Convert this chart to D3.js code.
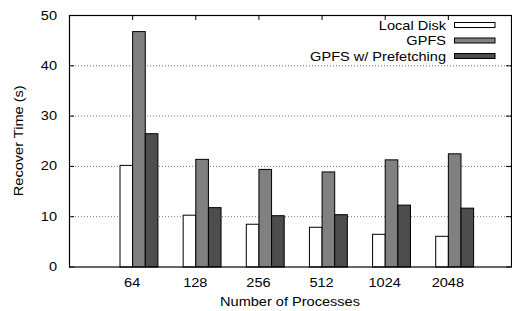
<!DOCTYPE html>
<html>
<head>
<meta charset="utf-8">
<script src="https://cdn.jsdelivr.net/npm/d3@7"></script>
<style>
  body { margin: 0; background: #fff; }
  svg { display: block; font-family: "Liberation Sans", Arial, sans-serif; }
</style>
</head>
<body>
<div id="chart"></div>
<script>
const categories = ['64', '128', '256', '512', '1024', '2048'];
const seriesNames = ['Local Disk', 'GPFS', 'GPFS w/ Prefetching'];
const localDisk = [20.2, 10.3, 8.5, 7.9, 6.5, 6.1];
const gpfs = [46.8, 21.4, 19.4, 18.9, 21.3, 22.5];
const prefetching = [26.5, 11.8, 10.2, 10.4, 12.3, 11.7];
const yTicks = [0, 10, 20, 30, 40, 50];
const colors = ['#ffffff', '#808080', '#4d4d4d'];

const width = 512;
const height = 311;
const margin = { top: 15, right: 1, bottom: 44.5, left: 69 };
const fontSize = 13;
const stretch = 1.12; // the original lettering is a bit wider than Liberation Sans

const series = [localDisk, gpfs, prefetching];

const svg = d3.select('#chart')
  .append('svg')
  .attr('width', width)
  .attr('height', height);

// gnuplot-like clustered layout: one unit per group, bars 0.2 wide
const x = d3.scaleLinear()
  .domain([-1, 6])
  .range([margin.left, width - margin.right]);

const y = d3.scaleLinear()
  .domain([0, 50])
  .range([height - margin.bottom, margin.top]);

const barW = 0.2;

function label(sel, px, py) {
  return sel.attr('transform', (d, i) => `translate(${px(d, i)},${py(d, i)}) scale(${stretch},1)`)
    .attr('font-size', fontSize);
}

// grid lines (dotted)
svg.append('g')
  .selectAll('line')
  .data(yTicks.filter(d => d > 0 && d < 50))
  .join('line')
  .attr('x1', x(-1))
  .attr('x2', x(6))
  .attr('y1', d => y(d) + 0.5)
  .attr('y2', d => y(d) + 0.5)
  .attr('stroke', '#777')
  .attr('stroke-width', 1)
  .attr('stroke-dasharray', '1,2');

// bars
series.forEach((vals, k) => {
  svg.append('g')
    .selectAll('rect')
    .data(vals)
    .join('rect')
    .attr('x', (d, i) => x(i + (k - 1) * barW) + 0.5)
    .attr('width', x(barW) - x(0))
    .attr('y', d => y(d) + 0.5)
    .attr('height', d => y(0) - y(d))
    .attr('fill', colors[k])
    .attr('stroke', '#000')
    .attr('stroke-width', 1);
});

// y axis tick labels and ticks
const yAxis = svg.append('g');
yAxis.selectAll('text')
  .data(yTicks)
  .join('text')
  .call(label, () => 57, d => y(d) + 4.5)
  .attr('text-anchor', 'end')
  .text(d => d);

yAxis.selectAll('line.l')
  .data(yTicks)
  .join('line')
  .attr('class', 'l')
  .attr('x1', x(-1))
  .attr('x2', x(-1) + 5)
  .attr('y1', d => y(d) + 0.5)
  .attr('y2', d => y(d) + 0.5)
  .attr('stroke', '#000');

yAxis.selectAll('line.r')
  .data(yTicks)
  .join('line')
  .attr('class', 'r')
  .attr('x1', x(6) - 5)
  .attr('x2', x(6))
  .attr('y1', d => y(d) + 0.5)
  .attr('y2', d => y(d) + 0.5)
  .attr('stroke', '#000');

// x tick labels and top ticks
const xAxis = svg.append('g');
xAxis.selectAll('text')
  .data(categories)
  .join('text')
  .call(label, (d, i) => x(i), () => 287)
  .attr('text-anchor', 'middle')
  .text(d => d);

xAxis.selectAll('line')
  .data(categories)
  .join('line')
  .attr('x1', (d, i) => x(i) + 0.5)
  .attr('x2', (d, i) => x(i) + 0.5)
  .attr('y1', y(50))
  .attr('y2', y(50) + 5)
  .attr('stroke', '#000');

// border
svg.append('rect')
  .attr('x', x(-1) + 0.5)
  .attr('y', y(50) + 0.5)
  .attr('width', x(6) - x(-1))
  .attr('height', y(0) - y(50))
  .attr('fill', 'none')
  .attr('stroke', '#000')
  .attr('stroke-width', 1.2);

// axis titles
svg.append('text')
  .attr('transform', `translate(22.5,${(y(0) + y(50)) / 2}) rotate(-90) scale(${stretch},1)`)
  .attr('text-anchor', 'middle')
  .attr('font-size', fontSize)
  .text('Recover Time (s)');

svg.append('text')
  .attr('transform', `translate(${(x(-1) + x(6)) / 2},306) scale(${stretch},1)`)
  .attr('text-anchor', 'middle')
  .attr('font-size', fontSize)
  .text('Number of Processes');

// legend
const legend = svg.append('g')
  .selectAll('g')
  .data(seriesNames)
  .join('g')
  .attr('transform', (d, i) => `translate(0,${25 + i * 15.5})`);

legend.append('text')
  .attr('transform', `translate(446,4.5) scale(${stretch},1)`)
  .attr('text-anchor', 'end')
  .attr('font-size', fontSize)
  .text(d => d);

legend.append('rect')
  .attr('x', 454.5)
  .attr('y', -2.5)
  .attr('width', 40.5)
  .attr('height', 5)
  .attr('fill', (d, i) => colors[i])
  .attr('stroke', '#000')
  .attr('stroke-width', 1);
</script>
</body>
</html>
